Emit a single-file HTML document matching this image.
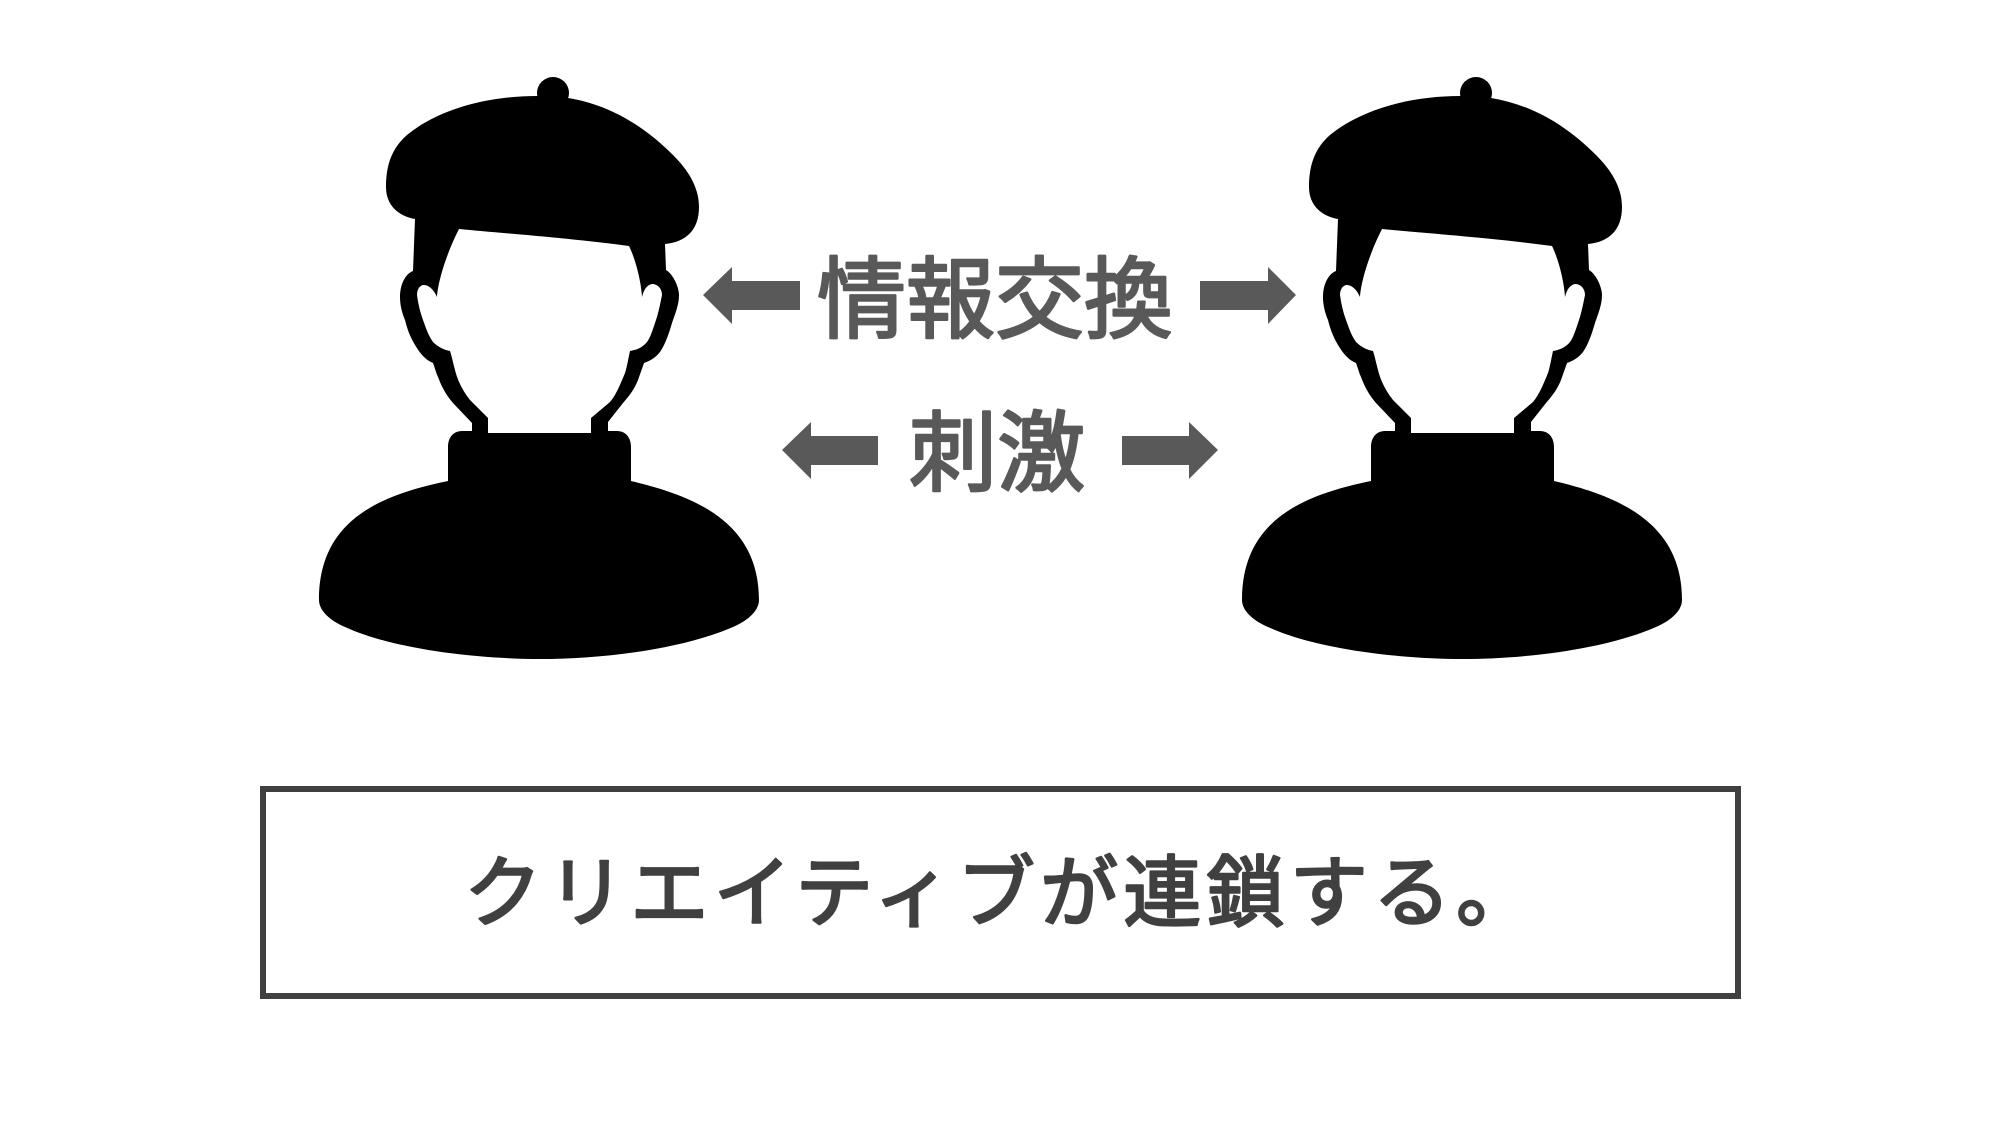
<!DOCTYPE html>
<html lang="ja"><head><meta charset="utf-8"><title>クリエイティブが連鎖する</title>
<style>html,body{margin:0;padding:0;background:#fff}svg{display:block}
text{font-family:"Liberation Sans","Noto Sans CJK JP",sans-serif;stroke-linejoin:round;stroke-linecap:round}</style></head>
<body>
<svg width="2000" height="1125" viewBox="0 0 2000 1125" xmlns="http://www.w3.org/2000/svg">
<rect width="2000" height="1125" fill="#fff"/>
<defs>
<g id="person">
<circle cx="553" cy="93" r="16" fill="#000"/>
<path fill="#000" d="M537,96 C490,96 440,108 407,135 C392,148 386,165 386,187 C386,205 398,216 415,219 L413,271 C405,274 400,285 400,297 C400,305 402,313 405,320 C408,332 411,338 415,345 C421,355 426,360 433,363 C435,368 436,373 438,377 C442,388 447,396 453,403 L472,423 L472,431 L462,431 C453,431 448,438 448,447 L448,481 C380,495 319,520 319,600 C319,612 333,622 345,627 C395,650 480,659 540,659 C600,659 680,650 733,627 C745,622 759,612 759,600 C759,525 700,497 631,481 L631,447 C631,438 626,431 617,431 L608,431 L608,422 L623,403 C630,395 635,388 638,380 L644,363 C652,360 656,357 660,352 C666,343 669,333 672,323 C675,314 679,305 679,295 C679,287 673,274 666,270 L665,244 C686,242 699,230 699,207 C699,187 688,170 673,155 C640,122 605,104 568,98 Z"/>
<path fill="#fff" d="M459,229 C500,233 570,238 629,246 C635,258 641,280 642,297 C644,289 647,285 652,284 C658,284 662,289 662,295 C660,305 658,315 655,323 C652,332 650,338 647,342 C642,348 636,350 630,351 C628,360 627,367 625,373 C620,385 616,395 610,402 L591,418 L591,433 L488,433 L488,418 L470,400 C463,391 458,382 455,370 C453,363 452,357 450,351 C444,350 438,347 433,342 C428,335 426,328 423,320 C420,312 418,303 417,295 C417,289 420,285 424,285 C429,285 434,290 437,297 C438,280 448,250 459,229 Z"/>
</g>
</defs>
<use href="#person"/>
<use href="#person" x="923"/>
<g fill="#595959">
<polygon points="703,295 732,267 732,281 800,281 800,310 732,310 732,324"/>
<polygon points="1296,295 1268,267 1268,281 1200,281 1200,310 1268,310 1268,324"/>
<polygon points="782,450 811,422 811,436 878,436 878,465 811,465 811,479"/>
<polygon points="1218,450 1189,422 1189,436 1122,436 1122,465 1189,465 1189,479"/>
</g>
<text x="817" y="331" font-size="89" fill="#595959" stroke="#595959" stroke-width="2.5">情報交換</text>
<text x="909" y="484" font-size="88" fill="#595959" stroke="#595959" stroke-width="2.5">刺激</text>
<rect x="263" y="789" width="1475" height="207" fill="#fff" stroke="#404040" stroke-width="6"/>
<text x="464" y="920" font-size="78" letter-spacing="5.2" fill="#404040" stroke="#404040" stroke-width="2.5">クリエイティブが連鎖する。</text>
</svg>
</body></html>
